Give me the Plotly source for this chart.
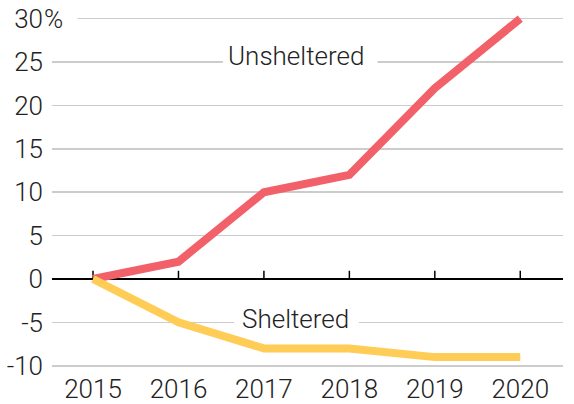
import plotly.graph_objects as go

years = [2015, 2016, 2017, 2018, 2019, 2020]
unsheltered = [0, 2, 10, 12, 22, 30]
sheltered = [0, -5, -8, -8, -9, -9]
y_ticks = [-10, -5, 0, 5, 10, 15, 20, 25, 30]
y_tick_text = ["-10", "-5", "0", "5", "10", "15", "20", "25", "30"]

FONT = "Roboto, sans-serif"
RED = "#F2606A"
YELLOW = "#FFCC55"
TXT = "#222222"
XMIN, XMAX = 2014.52, 2020.5

fig = go.Figure()
fig.add_trace(go.Scatter(x=years, y=unsheltered, mode="lines",
                         line=dict(color=RED, width=8),
                         hoverinfo="skip", showlegend=False))
fig.add_trace(go.Scatter(x=years, y=sheltered, mode="lines",
                         line=dict(color=YELLOW, width=8),
                         hoverinfo="skip", showlegend=False))

shapes = []
# small upward ticks on the zero line
for yr in years:
    shapes.append(dict(type="line", xref="x", yref="y", x0=yr, x1=yr,
                       y0=0, y1=0.95, line=dict(color="black", width=1.5),
                       layer="between"))
# white gaps in gridlines behind the labels
shapes += [
    dict(type="rect", xref="x", yref="y", x0=2016.52, x1=2018.33,
         y0=24.7, y1=25.3, fillcolor="white", line=dict(width=0), layer="between"),
    dict(type="rect", xref="x", yref="y", x0=2016.65, x1=2018.11,
         y0=-5.3, y1=-4.7, fillcolor="white", line=dict(width=0), layer="between"),
    dict(type="rect", xref="x", yref="y", x0=XMIN - 0.02, x1=2014.82,
         y0=29.7, y1=30.3, fillcolor="white", line=dict(width=0), layer="between"),
]

fig.update_layout(
    width=574, height=404,
    margin=dict(l=52, r=11, t=10, b=33, autoexpand=False),
    plot_bgcolor="white", paper_bgcolor="white",
    font=dict(family=FONT, size=26, color=TXT, weight=300),
    xaxis=dict(range=[XMIN, XMAX], tickvals=years,
               ticktext=[str(y) for y in years],
               showgrid=False, zeroline=False, showline=False,
               ticks="", ticklabelstandoff=0, automargin=False,
               tickfont=dict(size=26, weight=300)),
    yaxis=dict(range=[-10.6, 31.0], tickvals=y_ticks, ticktext=y_tick_text,
               showgrid=True, gridcolor="#cccccc", gridwidth=1.5,
               zeroline=True, zerolinecolor="black", zerolinewidth=1.5,
               showline=False, ticks="", ticklabelstandoff=8, automargin=False,
               tickfont=dict(size=26, weight=300)),
    shapes=shapes,
    annotations=[
        dict(x=2017.37, y=25.7, xref="x", yref="y", text="Unsheltered",
             showarrow=False,
             font=dict(family=FONT, size=26, color=TXT, weight=300)),
        dict(x=2017.37, y=-4.6, xref="x", yref="y", text="Sheltered",
             showarrow=False,
             font=dict(family=FONT, size=26, color=TXT, weight=300)),
        dict(x=0, y=30, xref="paper", yref="y", text="%", xanchor="left",
             showarrow=False, xshift=-10,
             font=dict(family=FONT, size=26, color=TXT, weight=300)),
    ],
)

fig.write_html("out.html",
               config={"displayModeBar": False, "staticPlot": True},
               post_script="document.body.style.margin='0';"
                           "document.body.style.overflow='hidden';")
